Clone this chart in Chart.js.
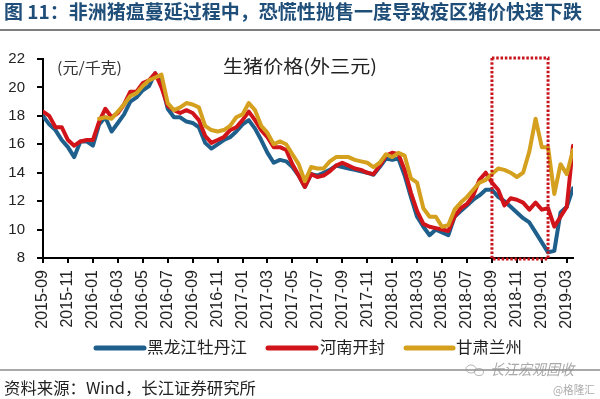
<!DOCTYPE html>
<html>
<head>
<meta charset="utf-8">
<script src="https://cdn.jsdelivr.net/npm/chart.js@4"></script>
<style>
  html, body { margin: 0; padding: 0; background: #fff; }
  #chart { display: block; }
</style>
</head>
<body>
<canvas id="chart" width="600" height="399"></canvas>
<script>
// tick labels, one every 2 months (every 4th half-month point)
const tickLabels = [
  '2015-09', '2015-11', '2016-01', '2016-03', '2016-05', '2016-07', '2016-09', '2016-11',
  '2017-01', '2017-03', '2017-05', '2017-07', '2017-09', '2017-11',
  '2018-01', '2018-03', '2018-05', '2018-07', '2018-09', '2018-11', '2019-01', '2019-03'
];

// half-monthly prices (元/千克), starting 2015-09
const heilongjiang = [
  18.0, 17.4, 17.0, 16.3, 15.8, 15.1, 16.2, 16.2, 15.9, 17.4,
  17.9, 16.9, 17.5, 18.1, 19.0, 19.3, 19.8, 20.1, 21.0, 20.3,
  18.5, 17.9, 17.9, 17.6, 17.5, 17.2, 16.1, 15.7, 16.0, 16.3,
  16.5, 16.9, 17.4, 17.7, 17.1, 16.3, 15.4, 14.7, 14.9, 14.8,
  14.4, 13.8, 13.0, 13.9, 13.8, 14.0, 14.2, 14.5, 14.4, 14.3,
  14.2, 14.1, 14.0, 13.85, 14.4, 15.0, 14.9, 15.0, 13.8, 12.3,
  10.9, 10.2, 9.6, 10.0, 9.8, 9.6, 10.9, 11.3, 11.7, 12.1,
  12.4, 12.8, 12.8, 12.3, 12.0, 11.6, 11.2, 10.8, 10.5, 9.8,
  9.1, 8.4, 8.5, 11.2, 11.6, 12.9
];

const henan = [
  18.3, 18.0, 17.2, 17.2, 16.3, 15.9, 16.2, 16.3, 16.3, 17.6,
  18.5, 17.9, 18.2, 18.8, 19.7, 19.7, 20.3, 20.5, 21.0, 20.0,
  18.7, 18.4, 18.2, 18.4, 18.2, 17.7, 16.6, 16.1, 16.3, 16.5,
  17.0, 17.2, 17.7, 18.3, 17.7, 17.0, 16.5, 15.8, 15.8, 15.6,
  14.6, 13.8, 13.0, 13.9, 13.7, 13.8, 14.1, 14.5, 14.7, 14.5,
  14.3, 14.2, 14.0, 13.9, 14.5, 15.2, 15.4, 15.3, 14.2, 12.6,
  11.3, 10.4, 10.2, 10.1, 10.0, 9.9, 10.9, 11.5, 11.8, 12.4,
  13.5, 14.0, 13.3, 12.8, 11.7, 12.2, 12.1, 11.9, 11.4, 11.9,
  11.4, 11.5, 10.2, 10.9, 11.6, 15.9
];

const gansu = [
  null, null, null, null, null, null, null, null, null, 17.8,
  17.9, 17.8, 18.3, 18.8, 19.4, 19.6, 20.1, 20.5, 20.7, 20.9,
  18.9, 18.4, 18.6, 18.9, 18.8, 18.6, 17.3, 17.0, 16.9, 17.0,
  17.3, 17.9, 18.1, 18.9, 18.4, 17.3, 16.8, 16.0, 16.2, 16.0,
  15.3, 14.6, 13.4, 14.4, 14.3, 14.3, 14.8, 15.1, 15.1, 15.1,
  14.9, 14.8, 14.7, 14.4, 14.7, 15.3, 15.1, 15.4, 15.2, 13.6,
  13.3, 11.5, 10.9, 10.9, 10.2, 10.3, 11.4, 11.9, 12.3, 12.8,
  13.3, 13.5, 13.9, 14.3, 14.2, 14.0, 13.7, 14.0, 15.5, 17.8,
  15.8, 15.8, 12.5, 14.6, 13.9, 15.6
];

const seriesNames = ['黑龙江牡丹江', '河南开封', '甘肃兰州'];
const seriesColors = ['#1f5f8c', '#d01419', '#d4a01e'];

// highlighted period (half-month index): 2018-09 .. early 2019-01
const boxStart = 72;
const boxEnd = 81;

const titleText = '图 11：非洲猪瘟蔓延过程中，恐慌性抛售一度导致疫区猪价快速下跌';
const sourceText = '资料来源：Wind，长江证券研究所';

const CJK = '"Noto Sans CJK SC", "Noto Sans", sans-serif';

function toPoints(arr) {
  return arr.map((v, i) => ({ x: i, y: v }));
}

// draw text stretched/squeezed to a given width
function fitText(ctx, text, x, y, width) {
  const w = ctx.measureText(text).width;
  ctx.save();
  ctx.translate(x, y);
  ctx.scale(width / w, 1);
  ctx.fillText(text, 0, 0);
  ctx.restore();
}

const decorPlugin = {
  id: 'decor',
  beforeDraw(chart) {
    const ctx = chart.ctx;
    ctx.save();
    ctx.fillStyle = '#fff';
    ctx.fillRect(0, 0, chart.width, chart.height);
    ctx.restore();
  },
  afterDatasetsDraw(chart) {
    const ctx = chart.ctx;
    const xs = chart.scales.x, ys = chart.scales.y;
    // dotted highlight box
    const l = xs.getPixelForValue(boxStart), r = xs.getPixelForValue(boxEnd);
    const t = ys.getPixelForValue(22) - 1, b = ys.getPixelForValue(8) + 1;
    ctx.save();
    ctx.strokeStyle = '#c8141c';
    ctx.lineWidth = 3;
    ctx.setLineDash([2.5, 1.8]);
    ctx.strokeRect(l, t, r - l, b - t);
    ctx.restore();
  },
  afterDraw(chart) {
    const ctx = chart.ctx;
    ctx.save();
    ctx.textBaseline = 'middle';

    // title
    ctx.fillStyle = '#1f4e79';
    ctx.font = 'bold 19px ' + CJK;
    fitText(ctx, titleText, 4, 12, 578);

    ctx.strokeStyle = '#555';
    ctx.lineWidth = 1.5;
    ctx.beginPath();
    ctx.moveTo(0, 30); ctx.lineTo(600, 30);
    ctx.stroke();

    // in-chart labels
    ctx.fillStyle = '#333';
    ctx.font = '15px ' + CJK;
    fitText(ctx, '(元/千克)', 57, 67, 65);
    ctx.fillStyle = '#222';
    ctx.font = '18px ' + CJK;
    fitText(ctx, '生猪价格(外三元)', 223, 66, 154);

    // legend
    const legendItems = [
      { line: [96, 144], text: 147, w: 100 },
      { line: [268, 316], text: 320, w: 65 },
      { line: [406, 453], text: 456, w: 66 }
    ];
    legendItems.forEach((it, i) => {
      ctx.strokeStyle = seriesColors[i];
      ctx.lineWidth = 5;
      ctx.lineCap = 'round';
      ctx.beginPath();
      ctx.moveTo(it.line[0], 348); ctx.lineTo(it.line[1], 348);
      ctx.stroke();
      ctx.fillStyle = '#222';
      ctx.font = '16px ' + CJK;
      fitText(ctx, seriesNames[i], it.text, 347, it.w);
    });

    // bottom rule and source
    ctx.lineCap = 'butt';
    ctx.strokeStyle = '#555';
    ctx.lineWidth = 1.2;
    ctx.beginPath();
    ctx.moveTo(0, 370); ctx.lineTo(600, 370);
    ctx.stroke();

    ctx.fillStyle = '#222';
    ctx.font = '16px ' + CJK;
    fitText(ctx, sourceText, 4, 388, 252);

    // watermark
    ctx.fillStyle = 'rgba(140,140,140,0.75)';
    ctx.font = 'italic 15px ' + CJK;
    fitText(ctx, '长江宏观固收', 490, 369, 84);
    ctx.font = '11px ' + CJK;
    ctx.fillStyle = 'rgba(150,150,150,0.8)';
    fitText(ctx, '@格隆汇', 553, 390, 42);
    ctx.strokeStyle = 'rgba(150,150,150,0.7)';
    ctx.lineWidth = 1;
    ctx.beginPath();
    ctx.ellipse(471, 369, 5, 4, 0, 0, Math.PI * 2);
    ctx.stroke();
    ctx.beginPath();
    ctx.ellipse(479, 372, 4.5, 3.5, 0, 0, Math.PI * 2);
    ctx.stroke();

    ctx.restore();
  }
};

new Chart(document.getElementById('chart'), {
  type: 'line',
  data: {
    datasets: [
      { label: seriesNames[0], data: toPoints(heilongjiang), borderColor: seriesColors[0], order: 2 },
      { label: seriesNames[1], data: toPoints(henan), borderColor: seriesColors[1], order: 1 },
      { label: seriesNames[2], data: toPoints(gansu), borderColor: seriesColors[2], order: 0 }
    ]
  },
  options: {
    responsive: false,
    animation: false,
    events: [],
    layout: { padding: { top: 59, left: 0, right: 27, bottom: 0 } },
    elements: {
      line: { borderWidth: 4, tension: 0, borderJoinStyle: 'round', borderCapStyle: 'round', fill: false },
      point: { radius: 0 }
    },
    plugins: {
      legend: { display: false },
      tooltip: { enabled: false },
      title: { display: false }
    },
    scales: {
      x: {
        type: 'linear',
        min: 0,
        max: 85,
        afterFit: s => { s.height = 141; },
        border: { display: true, color: '#000', width: 2 },
        grid: { drawOnChartArea: false, drawTicks: true, tickLength: 5, color: '#000', lineWidth: 2 },
        ticks: {
          stepSize: 4,
          includeBounds: false,
          autoSkip: false,
          maxRotation: 90,
          minRotation: 90,
          padding: 7,
          color: '#222',
          font: { family: '"Liberation Sans", Arial, sans-serif', size: 16 },
          callback: v => tickLabels[v / 4]
        }
      },
      y: {
        min: 8,
        max: 22,
        afterFit: s => { s.width = 43; },
        border: { display: true, color: '#000', width: 2 },
        grid: { drawOnChartArea: false, drawTicks: true, tickLength: 6, color: '#000', lineWidth: 2 },
        ticks: {
          stepSize: 2,
          padding: 12,
          color: '#222',
          font: { family: '"Liberation Sans", Arial, sans-serif', size: 15 }
        }
      }
    }
  },
  plugins: [decorPlugin]
});
</script>
</body>
</html>
